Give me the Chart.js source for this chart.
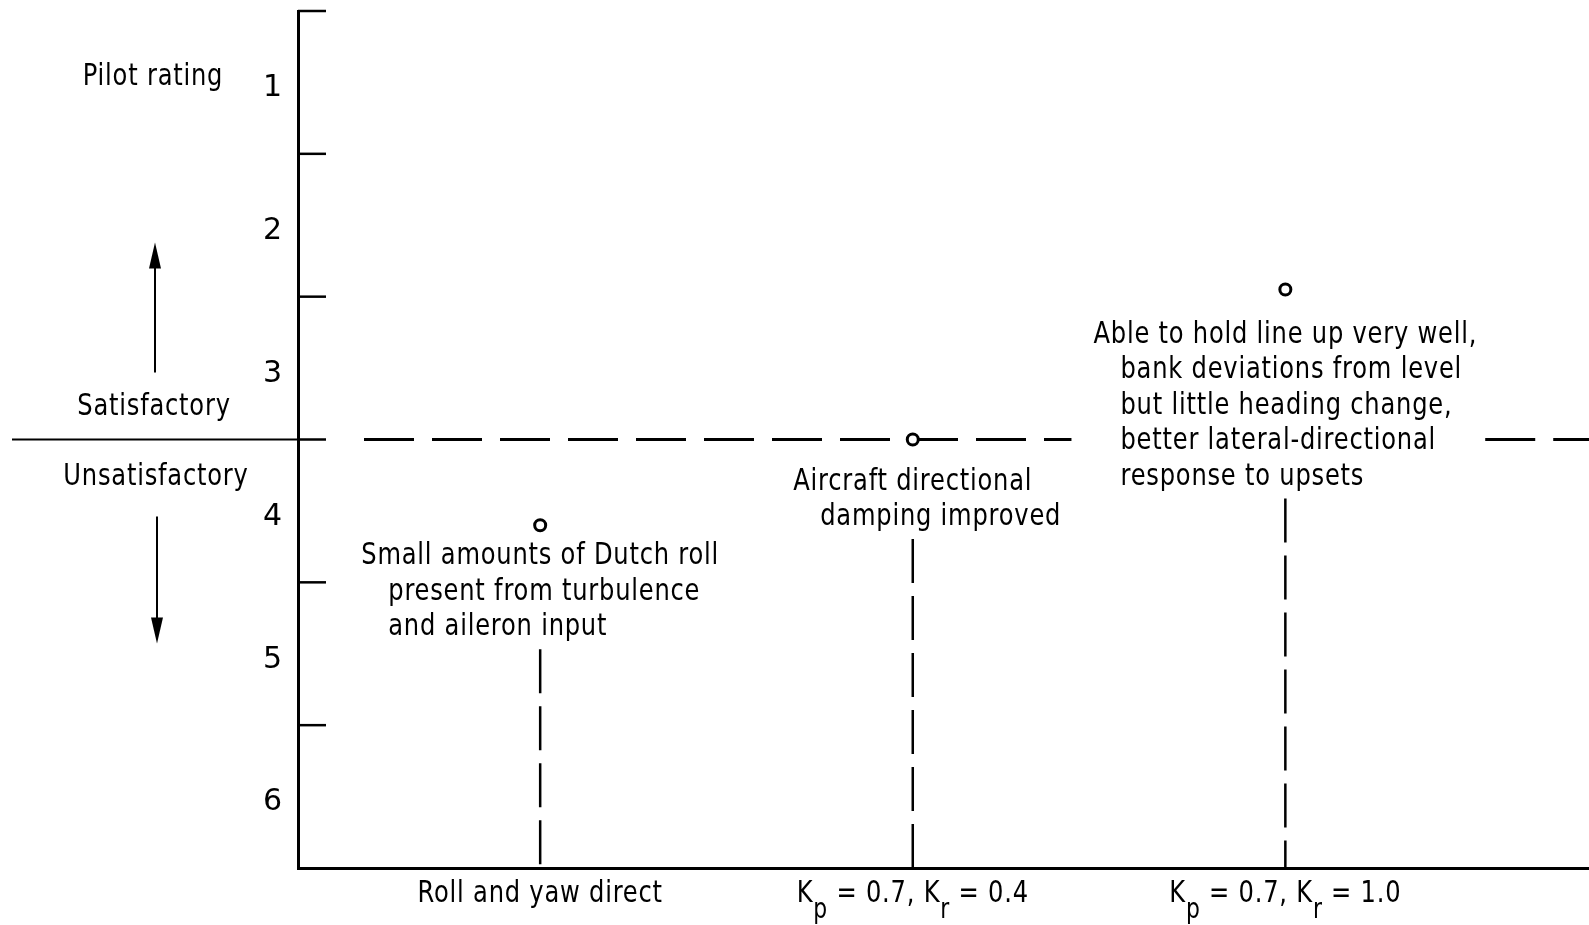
<!DOCTYPE html>
<html>
<head>
<meta charset="utf-8">
<title>Pilot rating</title>
<script src="https://cdn.jsdelivr.net/npm/chart.js@4.4.1/dist/chart.umd.min.js"></script>
<style>
  html, body { margin: 0; padding: 0; background: #fff; }
  #wrap { width: 1589px; height: 925px; }
</style>
</head>
<body>
<div id="wrap"><canvas id="ratingChart"></canvas></div>
<script>
// configurations along the bottom (K_p / K_r are drawn with subscripts)
const caseLabels = ['Roll and yaw direct', 'Kp = 0.7, Kr = 0.4', 'Kp = 0.7, Kr = 1.0'];
const caseIndex = [1, 2, 3];
const pilotRating = [4.1, 3.5, 2.45];
const ratingTicks = [1, 2, 3, 4, 5, 6];
const boundaryRating = 3.5;
const pilotComments = [
    ['Small amounts of Dutch roll', 'present from turbulence', 'and aileron input'],
    ['Aircraft directional', 'damping improved'],
    ['Able to hold line up very well,', 'bank deviations from level', 'but little heading change,',
        'better lateral-directional', 'response to upsets']
];

const FONT = '"DejaVu Sans", "Liberation Sans", sans-serif';
const SX = 0.78;                // squeeze text to look like the condensed typewriter face
const noteGap = [31, 42, 45];   // distance from the point down to the first comment line
const lineStep = 35.5;

function line(ctx, x1, y1, x2, y2) {
    ctx.beginPath();
    ctx.moveTo(x1, y1);
    ctx.lineTo(x2, y2);
    ctx.stroke();
}

function arrowHead(ctx, x, tipY, dir) {
    ctx.beginPath();
    ctx.moveTo(x, tipY);
    ctx.lineTo(x - 6, tipY - dir * 26);
    ctx.lineTo(x + 6, tipY - dir * 26);
    ctx.closePath();
    ctx.fill();
}

function setText(ctx, size) {
    ctx.font = size + 'px ' + FONT;
    ctx.letterSpacing = '1px';
}

function textWidth(ctx, t) {
    return ctx.measureText(t).width * SX;
}

function drawText(ctx, t, x, y, align) {
    ctx.save();
    ctx.translate(x, y);
    ctx.scale(SX, 1);
    ctx.textAlign = align || 'left';
    ctx.fillText(t, 0, 0);
    ctx.restore();
}

// where each comment block goes, first line centred on the point, the rest indented
function layoutNote(chart, i) {
    const ctx = chart.ctx;
    const px = chart.scales.x.getPixelForValue(caseIndex[i]);
    const py = chart.scales.y.getPixelForValue(pilotRating[i]);
    setText(ctx, 31);
    const lines = pilotComments[i];
    const w0 = textWidth(ctx, lines[0]);
    const left = px - w0 / 2;
    let right = left + w0;
    const out = lines.map(function (t, k) {
        const x = k === 0 ? left : left + 27;
        right = Math.max(right, x + textWidth(ctx, t));
        return {text: t, x: x, y: py + noteGap[i] + k * lineStep};
    });
    return {left: left, right: right, lines: out, bottom: out[out.length - 1].y, px: px};
}

const figureExtras = {
    id: 'figureExtras',
    beforeDatasetsDraw(chart) {
        const {ctx, chartArea: a, scales: {y}} = chart;
        ctx.save();
        ctx.strokeStyle = '#000';
        ctx.fillStyle = '#000';

        // inward tick marks at the half ratings
        ctx.lineWidth = 2.5;
        for (let v = 0.5; v < 6.5; v += 1) {
            const ty = y.getPixelForValue(v);
            line(ctx, a.left, ty, a.left + 28, ty);
        }

        // satisfactory / unsatisfactory boundary, broken by the third comment
        const by = y.getPixelForValue(boundaryRating);
        const third = layoutNote(chart, 2);
        ctx.lineWidth = 3;
        ctx.setLineDash([50, 18]);
        line(ctx, a.left + 66, by, third.left - 22, by);
        line(ctx, third.right + 8, by, a.right, by);

        // dashed drop lines from each comment down to the axis
        ctx.lineWidth = 2.5;
        ctx.setLineDash([44, 13]);
        for (let i = 0; i < caseIndex.length; i++) {
            const n = layoutNote(chart, i);
            line(ctx, n.px, n.bottom + 22, n.px, a.bottom);
        }
        ctx.restore();
    },
    afterDraw(chart) {
        const {ctx, chartArea: a, scales: {x, y}} = chart;
        ctx.save();
        ctx.strokeStyle = '#000';
        ctx.fillStyle = '#000';
        ctx.textBaseline = 'middle';

        // left side: title, boundary line, region labels and arrows
        const by = y.getPixelForValue(boundaryRating);
        ctx.lineWidth = 2;
        line(ctx, 12, by, a.left, by);
        setText(ctx, 31);
        drawText(ctx, 'Pilot rating', 153, y.getPixelForValue(1) - 5, 'center');
        drawText(ctx, 'Satisfactory', 154, by - 33, 'center');
        drawText(ctx, 'Unsatisfactory', 156, by + 37, 'center');
        line(ctx, 155, by - 67, 155, by - 190);
        arrowHead(ctx, 155, by - 197, -1);
        line(ctx, 157, by + 77, 157, by + 196);
        arrowHead(ctx, 157, by + 204, 1);

        // pilot comments
        for (let i = 0; i < caseIndex.length; i++) {
            const n = layoutNote(chart, i);
            setText(ctx, 31);
            n.lines.forEach(function (l) { drawText(ctx, l.text, l.x, l.y); });
        }

        // bottom labels with K subscripts
        const baseY = a.bottom + 26;
        caseLabels.forEach(function (label, i) {
            const parts = [];
            label.split(/(K[pr])/).forEach(function (s) {
                if (!s) return;
                if (/^K[pr]$/.test(s)) {
                    parts.push({t: 'K', size: 31, dy: 0});
                    parts.push({t: s[1], size: 28, dy: 17});
                } else {
                    parts.push({t: s, size: 31, dy: 0});
                }
            });
            let total = 0;
            parts.forEach(function (p) { setText(ctx, p.size); p.w = textWidth(ctx, p.t); total += p.w; });
            let cx = x.getPixelForValue(caseIndex[i]) - total / 2;
            parts.forEach(function (p) {
                setText(ctx, p.size);
                drawText(ctx, p.t, cx, baseY + p.dy);
                cx += p.w;
            });
        });
        ctx.restore();
    }
};

new Chart(document.getElementById('ratingChart'), {
    type: 'scatter',
    data: {
        datasets: [{
            data: caseIndex.map(function (c, i) { return {x: c, y: pilotRating[i]}; }),
            pointRadius: 5.5,
            pointHoverRadius: 5.5,
            pointBorderWidth: 3,
            borderColor: '#000',
            backgroundColor: '#fff'
        }]
    },
    options: {
        responsive: true,
        maintainAspectRatio: false,
        animation: false,
        events: [],
        layout: {autoPadding: false, padding: {top: 11, right: 0, bottom: 0, left: 0}},
        plugins: {legend: {display: false}, tooltip: {enabled: false}},
        scales: {
            x: {
                type: 'linear',
                min: 0.35,
                max: 3.815,
                grid: {drawOnChartArea: false, drawTicks: false},
                border: {color: '#000', width: 3},
                ticks: {display: false},
                afterFit: function (s) { s.height = 57; s.paddingLeft = 0; s.paddingRight = 0; }
            },
            y: {
                type: 'linear',
                reverse: true,
                min: 0.5,
                max: 6.5,
                afterBuildTicks: function (s) { s.ticks = ratingTicks.map(function (v) { return {value: v}; }); },
                ticks: {color: '#000', font: {family: FONT, size: 30}, padding: 16, labelOffset: 6},
                grid: {drawOnChartArea: false, drawTicks: false},
                border: {color: '#000', width: 3},
                afterFit: function (s) { s.width = 298; s.paddingTop = 0; s.paddingBottom = 0; }
            }
        }
    },
    plugins: [figureExtras]
});
</script>
</body>
</html>
